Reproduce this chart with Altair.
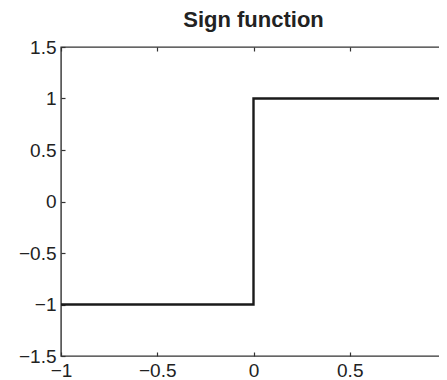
import altair as alt
import pandas as pd

xs = [-1, 0, 0, 1]
ys = [-1, -1, 1, 1]
seq = [0, 1, 2, 3]
x_ticks = [-1, -0.5, 0, 0.5, 1]
y_ticks = [-1.5, -1, -0.5, 0, 0.5, 1, 1.5]

df = pd.DataFrame({"x": xs, "y": ys, "i": seq})

xscale = alt.Scale(domain=[-1, 1], nice=False, zero=False)
yscale = alt.Scale(domain=[-1.5, 1.5], nice=False, zero=False)

common = dict(domain=False, grid=False, ticks=True, tickSize=4, tickColor="#333333",
              tickWidth=1.2, labelFont="Liberation Sans", labelFontSize=19,
              labelColor="#222222", offset=-4, labelPadding=5, title=None, format="~g")

line = alt.Chart(df).mark_line(color="#1a1a1a", strokeWidth=2.4).encode(
    x=alt.X("x:Q", scale=xscale, axis=alt.Axis(values=x_ticks, orient="bottom", labelOverlap=False, labelFlush=False, **common)),
    y=alt.Y("y:Q", scale=yscale, axis=alt.Axis(values=y_ticks, orient="left", labelOverlap=False, labelFlush=False, **common)),
    order="i:Q",
)

frame = alt.Chart(df).mark_line(opacity=0).encode(
    x=alt.X("x:Q", scale=xscale, axis=alt.Axis(values=x_ticks, orient="top", labels=False, **common)),
    y=alt.Y("y:Q", scale=yscale, axis=alt.Axis(values=y_ticks, orient="right", labels=False, **common)),
    order="i:Q",
)

chart = (
    alt.layer(line, frame)
    .resolve_axis(x="independent", y="independent")
    .properties(
        width=385,
        height=309,
        autosize="none",
        padding={"left": 53, "top": 39, "right": -7, "bottom": 24},
        title=alt.TitleParams("Sign function", font="Liberation Sans", fontSize=22,
                              fontWeight="bold", color="#222222", anchor="middle", offset=6),
    )
    .configure_view(stroke="#333333", strokeWidth=1.4)
)

chart.save("out.html", embed_options={"renderer": "svg", "actions": False})
